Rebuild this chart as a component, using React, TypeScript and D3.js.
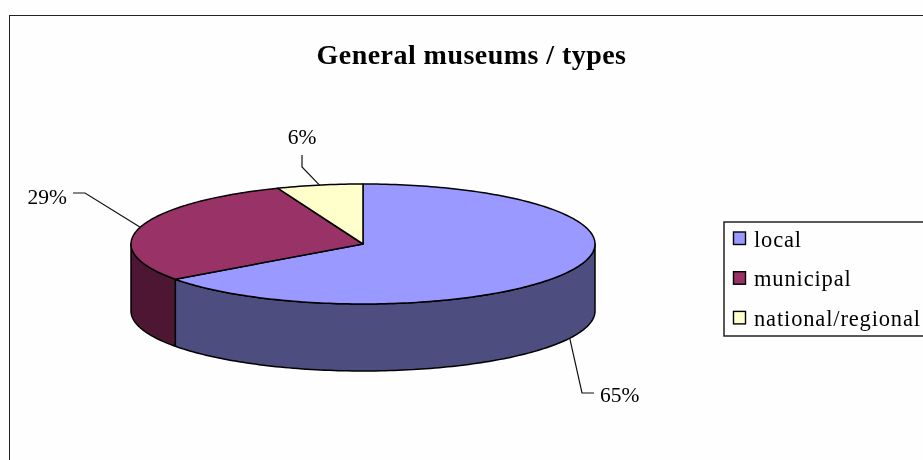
import React from "react";
import * as d3 from "d3";

const title = "General museums / types";
const categories = ["local", "municipal", "national/regional"];
const values = [65, 29, 6];
const topColors = ["#9999ff", "#993366", "#ffffcc"];
const sideColors = ["#4d4d80", "#4d1933", "#808066"];

const W = 923, H = 460;
const cx = 363, cy = 244, rx = 232, ry = 60, depth = 67;
const serif = "'Liberation Serif', 'Times New Roman', serif";

const px = (a: number) => cx + rx * Math.sin(a);
const py = (a: number, dz = 0) => cy - ry * Math.cos(a) + dz;

const samples = (a0: number, a1: number) => {
  const n = Math.max(2, Math.ceil(Math.abs(a1 - a0) / 0.02));
  return d3.range(n + 1).map((i) => a0 + ((a1 - a0) * i) / n);
};
const line = d3.line<[number, number]>();

const arcs = d3.pie<number>().sort(null)(values);

const topPath = (a0: number, a1: number) =>
  line([[cx, cy], ...samples(a0, a1).map((a) => [px(a), py(a)] as [number, number])]) + "Z";

// visible part of the outer wall: the front half of the ellipse
const sidePath = (a0: number, a1: number) => {
  const s = Math.max(a0, Math.PI / 2), e = Math.min(a1, (3 * Math.PI) / 2);
  if (e <= s) return null;
  const t = samples(s, e);
  const pts: [number, number][] = [
    ...t.map((a) => [px(a), py(a)] as [number, number]),
    ...t.slice().reverse().map((a) => [px(a), py(a, depth)] as [number, number]),
  ];
  return line(pts) + "Z";
};

const labelSpecs = [
  { dz: depth, elbow: [582, 393], end: [594, 393], tx: 600, ty: 402, anchor: "start" },
  { dz: 0, elbow: [85, 193], end: [73, 193], tx: 67, ty: 204, anchor: "end" },
  { dz: 0, elbow: [302, 167], end: [302, 155], tx: 302, ty: 144, anchor: "middle" },
];

export default function App() {
  return (
    <svg width={W} height={H} style={{ position: "absolute", left: 0, top: 0 }} fontFamily={serif}>
      <defs>
        <filter id="soft" x="0" y="0" width="100%" height="100%">
          <feGaussianBlur stdDeviation="0.4" />
        </filter>
      </defs>
      <rect width={W} height={H} fill="#fefefe" />
      <g filter="url(#soft)">
        <rect x={9} y={15} width={W + 20} height={H + 20} fill="#fefefe" stroke="#222" strokeWidth={2} />
        <text x={471.5} y={64} textAnchor="middle" fontSize={28} fontWeight="bold" letterSpacing={0.45} fill="#000">{title}</text>

        {arcs.map((d, i) => {
          const p = sidePath(d.startAngle, d.endAngle);
          return p ? <path key={i} d={p} fill={sideColors[i]} stroke="#000" strokeWidth={1.5} strokeLinejoin="round" /> : null;
        })}
        {arcs.map((d, i) => (
          <path key={i} d={topPath(d.startAngle, d.endAngle)} fill={topColors[i]} stroke="#000" strokeWidth={1.5} strokeLinejoin="round" />
        ))}

        {arcs.map((d, i) => {
          const mid = (d.startAngle + d.endAngle) / 2;
          const s = labelSpecs[i];
          return (
            <g key={i}>
              <path d={line([[px(mid), py(mid, s.dz)], s.elbow as [number, number], s.end as [number, number]]) || ""} fill="none" stroke="#111" strokeWidth={1.2} />
              <text x={s.tx} y={s.ty} textAnchor={s.anchor as any} fontSize={21.5} fill="#000">{values[i]}%</text>
            </g>
          );
        })}

        <rect x={724} y={222} width={W} height={114} fill="#fefefe" stroke="#222" strokeWidth={1.5} />
        {categories.map((c, i) => {
          const y = 238.5 + i * 39.7;
          return (
            <g key={c}>
              <rect x={733.5} y={y - 6.5} width={12} height={12.5} fill={topColors[i]} stroke="#000" strokeWidth={1.4} />
              <text x={754} y={y + 8} fontSize={22.5} letterSpacing={0.85} fill="#000">{c}</text>
            </g>
          );
        })}
      </g>
    </svg>
  );
}
